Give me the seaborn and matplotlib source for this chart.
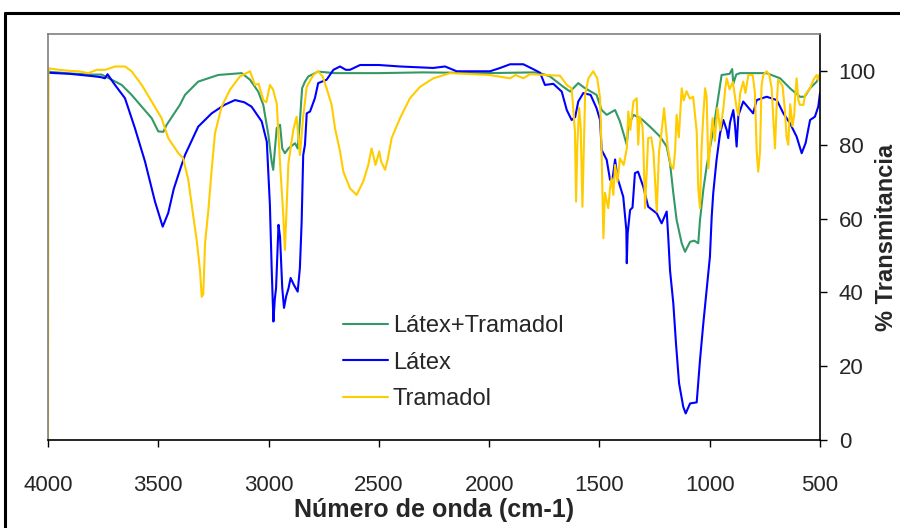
import numpy as np
import pandas as pd
import matplotlib
matplotlib.use("Agg")
import matplotlib.pyplot as plt
from matplotlib.lines import Line2D
import seaborn as sns

# ---------------- data ----------------
latex_wn = [4000, 3900, 3800, 3760, 3742, 3730, 3700, 3651, 3606, 3560, 3515, 3480, 3455, 3430, 3400,
            3379, 3319, 3258, 3200, 3152, 3110, 3077, 3031, 3008, 2994, 2986, 2978, 2972, 2966, 2955,
            2948, 2938, 2930, 2920, 2910, 2900, 2885, 2868, 2858, 2850, 2843, 2835, 2827, 2812, 2790,
            2775, 2737, 2706, 2676, 2650, 2631, 2585, 2500, 2404, 2254, 2200, 2147, 1996, 1950, 1905,
            1845, 1801, 1769, 1747, 1709, 1671, 1648, 1626, 1610, 1596, 1573, 1540, 1513, 1497, 1490,
            1467, 1452, 1440, 1429, 1418, 1392, 1378, 1376, 1372, 1361, 1350, 1339, 1325, 1301, 1286,
            1279, 1240, 1218, 1195, 1188, 1180, 1165, 1153, 1139, 1120, 1109, 1089, 1059, 1044, 1029,
            1014, 999, 991, 984, 969, 953, 938, 923, 916, 908, 893, 885, 878, 870, 848, 803, 787, 742,
            696, 666, 636, 606, 583, 565, 545, 523, 508, 500]
latex_t = [99.5, 99.2, 98.6, 98.3, 98.0, 99.1, 96.5, 92.6, 84.5, 75.4, 64.6, 57.8, 61.5, 68.0, 73.5,
           77.2, 84.9, 88.5, 90.8, 92.1, 91.5, 90.3, 86.3, 80.8, 63.7, 46.6, 32.1, 38.0, 41.2, 58.3,
           55.0, 41.2, 35.8, 39.0, 41.0, 43.9, 42.0, 40.2, 46.6, 59.2, 77.2, 80.0, 88.5, 89.0, 92.6,
           96.7, 97.6, 100.3, 101.2, 100.3, 100.3, 101.6, 101.6, 101.2, 100.8, 101.2, 99.9, 99.9, 100.8, 101.8,
           101.8, 100.5, 99.5, 96.2, 96.5, 94.4, 89.4, 86.7, 87.5, 91.7, 94.0, 93.5, 89.9, 86.7, 78.6,
           75.9, 70.5, 71.0, 76.0, 71.0, 65.9, 56.9, 47.9, 56.0, 62.3, 63.0, 72.3, 72.7, 68.6, 65.0,
           63.2, 61.4, 58.7, 61.9, 55.0, 46.0, 37.0, 26.2, 15.4, 9.0, 7.2, 9.9, 10.2, 21.7, 31.6,
           40.6, 49.7, 60.5, 66.9, 75.9, 83.1, 86.7, 84.0, 81.8, 86.0, 89.4, 85.0, 79.5, 88.0, 91.7, 88.5, 92.1, 93.0,
           92.1, 88.5, 85.8, 82.2, 77.7, 80.5, 86.7, 87.6, 90.3, 94.0]

mix_wn = [4000, 3900, 3800, 3757, 3711, 3666, 3621, 3575, 3530, 3500, 3477, 3462, 3432, 3402, 3379,
          3319, 3228, 3122, 3084, 3047, 3024, 3001, 2986, 2979, 2971, 2963, 2948, 2938, 2926, 2910,
          2880, 2868, 2858, 2848, 2835, 2820, 2775, 2700, 2500, 2300, 2000, 1800, 1769, 1724, 1664,
          1633, 1596, 1570, 1513, 1490, 1467, 1429, 1407, 1376, 1369, 1346, 1310, 1271, 1225, 1195,
          1180, 1165, 1150, 1127, 1112, 1089, 1070, 1052, 1044, 1029, 1014, 984, 961, 946, 910,
          898, 893, 880, 863, 742, 681, 636, 591, 570, 545, 515, 500]
mix_t = [99.8, 99.3, 99.0, 99.0, 97.6, 96.2, 93.5, 90.3, 87.2, 83.6, 83.5, 85.4, 88.1, 90.8, 93.5,
         97.1, 98.9, 99.4, 97.6, 94.4, 90.8, 82.7, 75.4, 73.2, 79.0, 84.5, 85.4, 79.0, 77.7, 79.0,
         80.4, 79.0, 86.3, 95.3, 97.1, 98.5, 99.8, 99.4, 99.4, 99.6, 99.4, 99.6, 99.4, 98.5, 95.7,
         94.4, 96.7, 95.5, 93.5, 89.4, 88.1, 89.4, 86.3, 80.0, 84.9, 88.1, 87.0, 84.9, 82.2, 79.5,
         75.0, 66.9, 59.6, 53.3, 51.0, 53.7, 54.0, 53.3, 59.6, 67.8, 74.1, 84.0, 93.0, 98.9, 99.2,
         100.5, 96.5, 99.0, 99.4, 99.4, 98.0, 95.3, 93.0, 93.0, 95.3, 97.1, 98.9]

tram_wn = [4000, 3998, 3950, 3900, 3863, 3817, 3779, 3740, 3696, 3651, 3621, 3575, 3530, 3485, 3455,
           3409, 3387, 3364, 3341, 3326, 3311, 3303, 3296, 3288, 3273, 3258, 3243, 3213, 3175, 3130,
           3084, 3062, 3045, 3024, 3010, 2994, 2980, 2963, 2948, 2933, 2926, 2920, 2910, 2888, 2873,
           2865, 2858, 2843, 2827, 2797, 2775, 2755, 2737, 2714, 2699, 2676, 2661, 2631, 2601, 2571,
           2548, 2533, 2515, 2498, 2490, 2472, 2460, 2442, 2404, 2359, 2313, 2253, 2177, 2000, 1905,
           1880, 1845, 1815, 1679, 1648, 1626, 1611, 1606, 1600, 1592, 1585, 1577, 1565, 1550, 1528,
           1510, 1497, 1490, 1482, 1475, 1460, 1452, 1445, 1437, 1429, 1418, 1407, 1390, 1376, 1369,
           1360, 1346, 1331, 1324, 1318, 1305, 1301, 1293, 1279, 1265, 1255, 1240, 1230, 1218, 1207,
           1198, 1190, 1177, 1165, 1157, 1150, 1140, 1127, 1118, 1105, 1090, 1075, 1059, 1052, 1044,
           1037, 1029, 1021, 1014, 1006, 998, 987, 977, 965, 952, 938, 930, 923, 910, 895,
           878, 870, 862, 848, 838, 825, 805, 795, 787, 780, 772, 765, 757, 742, 730,
           719, 712, 704, 697, 690, 670, 660, 651, 644, 635, 625, 617, 613, 606, 598,
           591, 575, 568, 545, 530, 515, 508, 500]
tram_t = [0.0, 100.7, 100.3, 100.0, 99.9, 99.4, 100.3, 100.3, 101.2, 101.2, 99.9, 96.2, 91.7, 87.2, 81.8,
          77.7, 76.3, 70.5, 60.5, 54.2, 46.1, 38.8, 39.5, 53.3, 62.3, 73.2, 83.1, 90.3, 94.9, 98.5,
          99.9, 96.2, 96.5, 92.1, 91.5, 96.2, 95.0, 91.2, 75.0, 60.5, 51.5, 60.5, 75.0, 84.0, 87.6,
          82.0, 77.2, 87.6, 95.7, 98.9, 99.9, 98.5, 95.3, 90.8, 84.5, 78.2, 72.7, 68.2, 66.4, 70.0,
          74.5, 79.0, 74.5, 78.2, 75.5, 73.2, 76.0, 81.8, 87.2, 92.6, 95.7, 98.0, 99.4, 98.9, 98.0,
          98.9, 98.0, 99.1, 98.7, 96.2, 95.3, 83.6, 64.6, 80.0, 90.0, 85.0, 63.2, 93.5, 98.0, 99.9,
          98.0, 92.6, 77.2, 54.7, 67.0, 62.8, 68.2, 71.0, 66.4, 74.5, 70.0, 76.3, 74.5, 79.0, 89.0,
          84.0, 91.7, 92.6, 80.0, 87.6, 85.0, 80.0, 62.8, 81.8, 82.0, 78.0, 61.9, 78.0, 83.6, 89.9,
          84.0, 79.0, 74.5, 73.5, 78.2, 88.1, 82.0, 95.3, 92.0, 94.5, 92.5, 93.0, 83.6, 68.2, 62.8,
          79.0, 88.1, 95.3, 93.0, 73.6, 80.0, 87.2, 81.0, 90.0, 84.0, 89.9, 95.0, 98.0, 95.0, 97.0,
          89.9, 88.0, 94.0, 97.1, 94.0, 98.9, 98.9, 94.0, 78.2, 72.7, 78.2, 96.0, 98.9, 99.9, 99.0,
          95.3, 87.2, 79.0, 90.0, 97.6, 96.0, 90.0, 81.8, 80.0, 91.0, 85.0, 88.0, 92.6, 98.0, 92.0,
          90.8, 90.8, 93.5, 95.3, 97.6, 98.9, 97.5, 99.4]

series_names = ["Látex+Tramadol", "Látex", "Tramadol"]
series_colors = ["#339966", "#0000FF", "#FFCC00"]
x_ticks = [4000, 3500, 3000, 2500, 2000, 1500, 1000, 500]
y_ticks = [0, 20, 40, 60, 80, 100]
x_label = "Número de onda (cm-1)"
y_label = "% Transmitancia"

# ---------------- plot ----------------
sns.set_theme(style="white")
plt.rcParams["font.family"] = ["Liberation Sans", "DejaVu Sans"]

fig = plt.figure(figsize=(9, 5.28), dpi=100)
ax = fig.add_axes([48 / 900, 88 / 528, 772 / 900, 406 / 528])

data = [(mix_wn, mix_t), (latex_wn, latex_t), (tram_wn, tram_t)]
for (wn, t), name, col in zip(data, series_names, series_colors):
    df = pd.DataFrame({"wn": wn, "t": t})
    sns.lineplot(data=df, x="wn", y="t", ax=ax, sort=False, estimator=None,
                 color=col, linewidth=1.5, label=name)

ax.set_xlim(4000, 500)
ax.set_ylim(0, 110)
ax.set_xticks(x_ticks)
ax.set_xticklabels([str(v) for v in x_ticks])
ax.set_yticks(y_ticks)
ax.set_yticklabels([str(v) for v in y_ticks])
ax.yaxis.tick_right()
ax.yaxis.set_label_position("right")
ax.tick_params(axis="x", direction="out", length=5, width=1, color="black",
               labelsize=16, pad=20, bottom=True)
ax.tick_params(axis="y", direction="out", length=5, width=1, color="black",
               labelsize=16, pad=8.5, right=True, left=False)
ax.set_xlabel(x_label, fontsize=18, fontweight="bold", labelpad=2)
ax.set_ylabel(y_label, fontsize=17, fontweight="bold", labelpad=-1)

for s in ["left", "top"]:
    ax.spines[s].set_color("#808080")
    ax.spines[s].set_linewidth(1.2)
for s in ["right", "bottom"]:
    ax.spines[s].set_color("black")
    ax.spines[s].set_linewidth(1.2)

leg = ax.legend(loc="upper left", bbox_to_anchor=(0.355, 0.36), frameon=False,
                fontsize=17, handlelength=1.9, handletextpad=0.2, labelspacing=0.62)
for h in leg.get_lines():
    h.set_linewidth(1.5)

# outer chart border (open on right/bottom as in the reference)
fig.add_artist(Line2D([5 / 900, 5 / 900], [0, 1 - 13 / 528], transform=fig.transFigure,
                      color="black", linewidth=2.2))
fig.add_artist(Line2D([5 / 900, 1], [1 - 13 / 528, 1 - 13 / 528], transform=fig.transFigure,
                      color="black", linewidth=2.2))

fig.savefig("out.png", dpi=100)
